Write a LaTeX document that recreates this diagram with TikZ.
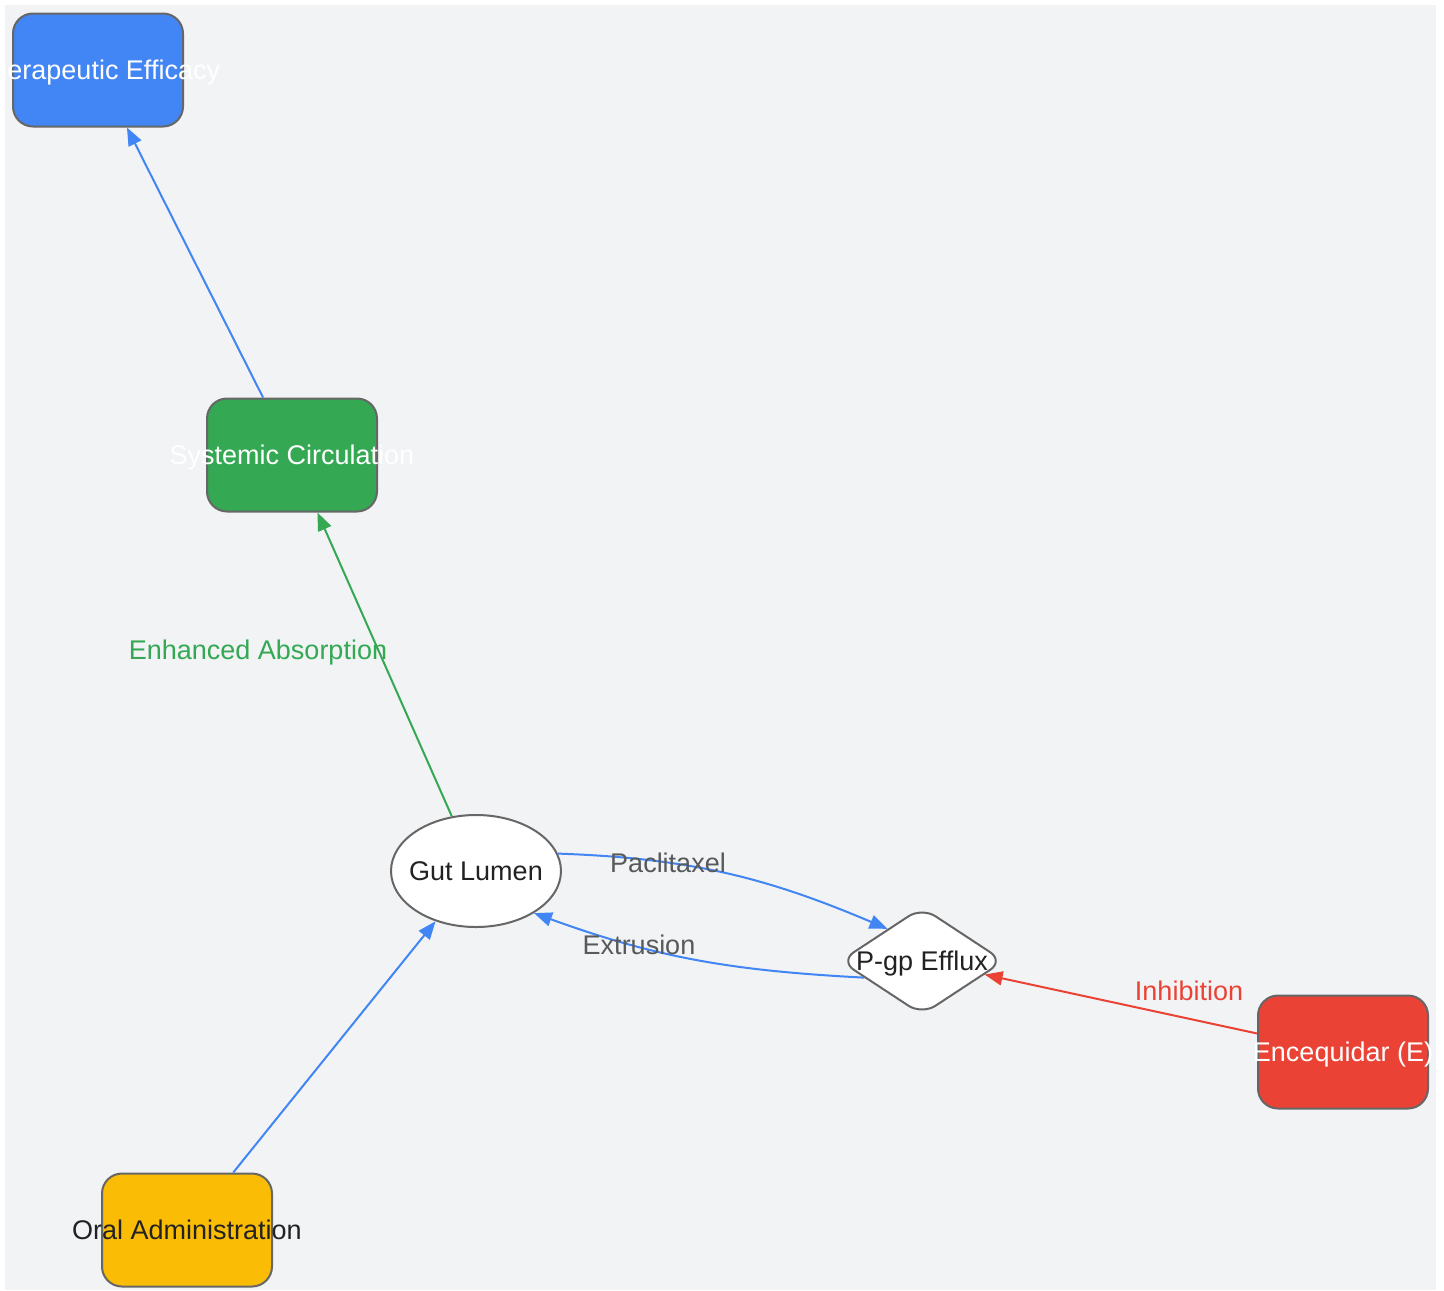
\documentclass[tikz,border=0pt]{standalone}
\usepackage{fontspec}
\setmainfont{Liberation Sans}
\usetikzlibrary{shapes.geometric,arrows.meta}

\definecolor{panel}{HTML}{F1F3F5}
\definecolor{nodeline}{HTML}{666666}
\definecolor{gblue}{HTML}{4285F4}
\definecolor{ggreen}{HTML}{34A853}
\definecolor{gred}{HTML}{EA4335}
\definecolor{gyellow}{HTML}{FBBC05}
\definecolor{labelgray}{HTML}{595959}
\definecolor{darktext}{HTML}{222222}

\newcommand{\ovl}[1]{\makebox[0pt]{#1}}

\tikzset{
  txt/.style={font=\fontsize{13.5}{16}\selectfont, text height=9.7pt, text depth=0pt},
  box/.style={txt, draw=nodeline, line width=1pt, rounded corners=10pt,
    minimum width=85pt, minimum height=56.5pt, inner sep=0pt},
  lumen/.style={txt, ellipse, draw=nodeline, fill=white, line width=1pt,
    minimum width=85pt, minimum height=56pt, inner sep=0pt, text=darktext},
  pump/.style={txt, diamond, draw=nodeline, fill=white, line width=1pt,
    rounded corners=8pt, minimum width=82pt, minimum height=54pt, inner sep=0pt,
    text=darktext},
  flow/.style={line width=1pt, -{Triangle[length=9pt,width=7pt]}},
  edgelabel/.style={txt, text=labelgray}
}

\begin{document}
\begin{tikzpicture}[x=0.5pt,y=-0.5pt]
  \useasboundingbox (0,0) rectangle (1444,1290);
  \fill[panel] (5,5) rectangle (1436,1290);

  % nodes
  \node[box, fill=gblue, text=white] (efficacy) at (98,70) {\ovl{Therapeutic Efficacy}};
  \node[box, fill=ggreen, text=white] (systemic) at (292,455) {\ovl{Systemic Circulation}};
  \node[lumen] (gut) at (476,871) {\ovl{Gut Lumen}};
  \node[pump] (pgp) at (922,961) {\ovl{P-gp Efflux}};
  \node[box, fill=gred, text=white] (encequidar) at (1343,1052) {\ovl{Encequidar (E)}};
  \node[box, fill=gyellow, text=darktext] (oral) at (187,1230) {\ovl{Oral Administration}};

  % connectors
  \draw[flow, gblue] (oral) -- (gut);
  \draw[flow, ggreen] (gut) -- (systemic);
  \draw[flow, gblue] (systemic) -- (efficacy);
  \draw[flow, gblue] (gut.12) to[out=-2, in=157] (pgp.137);
  \draw[flow, gblue] (pgp.196) to[out=177, in=-20] (gut.-36);
  \draw[flow, gred] (encequidar) -- (pgp);

  % labels
  \node[edgelabel, text=ggreen] (absorb) at (258,650) {Enhanced Absorption};
  \node[edgelabel] (pacli) at (668,863) {Paclitaxel};
  \node[edgelabel] (extru) at (639,945) {Extrusion};
  \node[edgelabel, text=gred] (inhib) at (1189,991) {Inhibition};
\end{tikzpicture}
\end{document}
